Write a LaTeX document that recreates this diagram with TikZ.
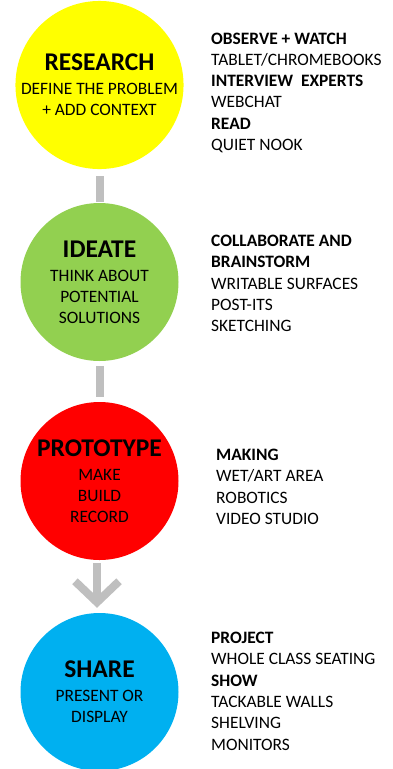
\documentclass[tikz,border=0pt]{standalone}
\usepackage{fontspec}
\setmainfont{Carlito}
\usetikzlibrary{arrows.meta}
\definecolor{researchyellow}{HTML}{FFFF00}
\definecolor{ideategreen}{HTML}{92D050}
\definecolor{prototypered}{HTML}{FF0000}
\definecolor{shareblue}{HTML}{00B0F0}
\definecolor{linkgray}{HTML}{BFBFBF}
\newcommand{\stagetitle}{\fontsize{25.5}{28}\selectfont\bfseries}
\tikzset{
  stage/.style={%
    circle, fill=#1, minimum size=158pt, inner sep=0pt,
    align=center, font=\fontsize{17.4}{21}\selectfont
  },
  spaces/.style={%
    anchor=base west, inner sep=0pt, text width=180pt, align=flush left,
    font=\fontsize{17.4}{21.3}\selectfont
  },
  link/.style={line width=8pt, draw=linkgray},
}
\begin{document}
\begin{tikzpicture}[x=1pt,y=-1pt]
\useasboundingbox (0,0) rectangle (393,769);
% the four stages
\node[stage=researchyellow] (research) at (99.5,85)
  {{\stagetitle RESEARCH}\\[3pt]DEFINE THE PROBLEM\\+ ADD CONTEXT};
\node[stage=ideategreen] (ideate) at (99.5,282)
  {{\stagetitle IDEATE}\\[3pt]THINK ABOUT\\POTENTIAL\\SOLUTIONS};
\node[stage=prototypered] (prototype) at (99.5,481)
  {{\stagetitle PROTOTYPE}\\[3pt]MAKE\\BUILD\\RECORD};
\node[stage=shareblue] (share) at (99.5,692)
  {{\stagetitle SHARE}\\[3pt]PRESENT OR\\DISPLAY};
% links
\draw[link, shorten <=7pt, shorten >=1pt] (research) -- (ideate);
\draw[link, shorten <=5pt, shorten >=5pt] (ideate) -- (prototype);
\draw[link, shorten <=3pt, shorten >=5pt,
  -{Straight Barb[length=21pt, width=44pt]}]
  ([xshift=-2.5pt]prototype.south) -- ([xshift=-2.5pt]share.north);
% learning spaces
\node[spaces] (research spaces) at (211,44)
  {\textbf{OBSERVE + WATCH}\\TABLET/CHROMEBOOKS\\\textbf{INTERVIEW\ \ EXPERTS}\\WEBCHAT\\\textbf{READ}\\QUIET NOOK};
\node[spaces] (ideate spaces) at (211,246.6)
  {\textbf{COLLABORATE AND}\\\textbf{BRAINSTORM}\\WRITABLE SURFACES\\POST-ITS\\SKETCHING};
\node[spaces] (prototype spaces) at (216,460.6)
  {\textbf{MAKING}\\WET/ART AREA\\ROBOTICS\\VIDEO STUDIO};
\node[spaces] (share spaces) at (211,643.6)
  {\textbf{PROJECT}\\WHOLE CLASS SEATING\\\textbf{SHOW}\\TACKABLE WALLS\\SHELVING\\MONITORS};
\end{tikzpicture}
\end{document}
